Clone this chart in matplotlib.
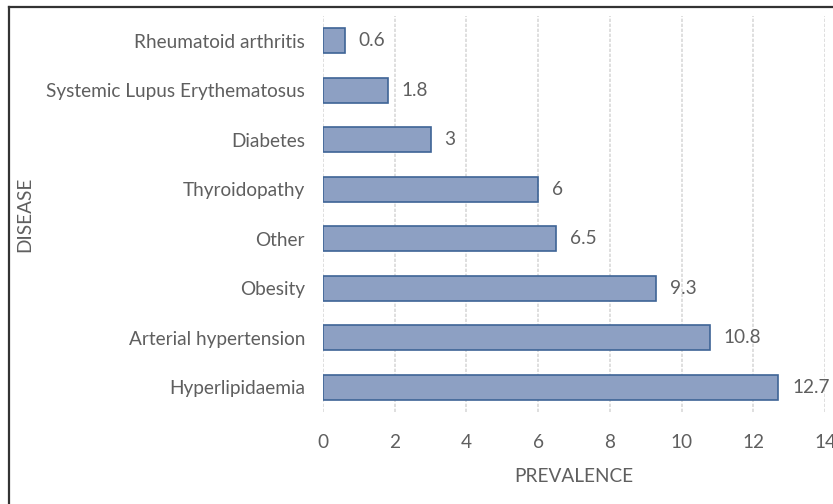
import matplotlib.pyplot as plt
from matplotlib.lines import Line2D

plt.rcParams['font.family'] = ['Lato', 'DejaVu Sans']

diseases = ['Hyperlipidaemia', 'Arterial hypertension', 'Obesity', 'Other',
            'Thyroidopathy', 'Diabetes', 'Systemic Lupus Erythematosus',
            'Rheumatoid arthritis']
prevalence = [12.7, 10.8, 9.3, 6.5, 6, 3, 1.8, 0.6]
value_labels = ['12.7', '10.8', '9.3', '6.5', '6', '3', '1.8', '0.6']
xticks = [0, 2, 4, 6, 8, 10, 12, 14]

text_color = '#5f5f5f'
fs = 13.7

fig = plt.figure(figsize=(8.33, 5.04), dpi=100)
ax = fig.add_axes([323 / 833, 1 - 412 / 504, 502 / 833, 396 / 504])

y = list(range(len(diseases)))
ax.barh(y, prevalence, height=0.5, color='#8da0c3', edgecolor='#3e6496',
        linewidth=1.2, zorder=3)

for yi, v, lab in zip(y, prevalence, value_labels):
    ax.text(v + 0.38, yi, lab, va='center', ha='left', fontsize=fs,
            color=text_color)

ax.set_xlim(0, 14)
ax.set_ylim(-0.5, len(diseases) - 0.5)
ax.set_xticks(xticks)
ax.set_yticks(y)
ax.set_yticklabels(diseases)
ax.tick_params(axis='both', length=0, labelsize=fs, colors=text_color)
ax.tick_params(axis='y', pad=13)
ax.tick_params(axis='x', pad=16)
for s in ax.spines.values():
    s.set_visible(False)
ax.grid(axis='x', color='#d9d9d9', linestyle=(0, (2, 1)), linewidth=1.2, zorder=0)

ax.set_xlabel('PREVALENCE', fontsize=fs, color=text_color, labelpad=12)
fig.text(25 / 833, 1 - 214 / 504, 'DISEASE', rotation=90, ha='center',
         va='center', fontsize=fs, color=text_color)

# outer frame (left and top edges)
fig.add_artist(Line2D([8.5 / 833, 8.5 / 833], [0, 1 - 6.5 / 504],
                      transform=fig.transFigure, color='#333333', linewidth=1.6))
fig.add_artist(Line2D([8.5 / 833, 1], [1 - 6.5 / 504, 1 - 6.5 / 504],
                      transform=fig.transFigure, color='#333333', linewidth=1.6))

fig.savefig('out.png', dpi=100)
